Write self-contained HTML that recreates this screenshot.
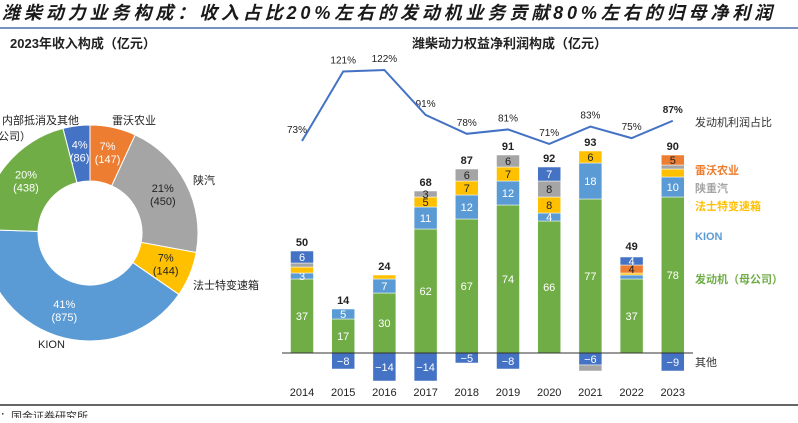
<!DOCTYPE html>
<html><head><meta charset="utf-8">
<style>
body{margin:0;background:#fff;width:798px;height:418px;overflow:hidden;font-family:"Liberation Sans","Noto Sans CJK SC",sans-serif;}
svg text{font-family:"Liberation Sans","Noto Sans CJK SC",sans-serif;}
</style></head><body>
<svg width="798" height="418" xmlns="http://www.w3.org/2000/svg">
<text x="2" y="19" font-size="18" font-weight="bold" font-style="italic" fill="#1a1a1a" textLength="770" lengthAdjust="spacing">潍柴动力业务构成：收入占比20%左右的发动机业务贡献80%左右的归母净利润</text>
<line x1="0" y1="28" x2="798" y2="28" stroke="#4a6fa5" stroke-width="1.5"/>
<text x="10" y="48" font-size="13" font-weight="bold" fill="#222">2023年收入构成（亿元）</text>
<text x="412" y="48" font-size="13" font-weight="bold" fill="#222">潍柴动力权益净利润构成（亿元）</text>
<g id="donut"></g>
<g id="bars"></g>
<line x1="0" y1="405" x2="798" y2="405" stroke="#333" stroke-width="1.5"/>
<text x="0" y="420" font-size="11" fill="#333">：国金证券研究所</text>
</svg>
<script>
const NS='http://www.w3.org/2000/svg';
function mk(p,t,a){const e=document.createElementNS(NS,t);for(const k in a)e.setAttribute(k,a[k]);p.appendChild(e);return e;}
// donut data
const pieNames=['雷沃农业','陕汽','法士特变速箱','KION','潍柴(母公司)','内部抵消及其他'];
const pieVals=[147,450,144,875,438,86];
const piePct=['7%','21%','7%','41%','20%','4%'];
const pieColors=['#ed7d31','#a5a5a5','#ffc000','#5b9bd5','#70ad47','#4472c4'];
// bar data
const years=['2014','2015','2016','2017','2018','2019','2020','2021','2022','2023'];
const engine=[37,17,30,62,67,74,66,77,37,78];
const kion=[3,5,7,11,12,12,4,18,2,10];
const fast=[3,0,2,5,7,7,8,6,1,4];
const shaanxi=[2,0,0,3,6,6,8,0,0,2];
const volvo=[0,0,0,0,0,0,0,0,4,5];
const otherPos=[6,0,0,0,0,0,7,0,4,0];
const otherNeg=[0,-8,-14,-14,-5,-8,0,-6,0,-9];
const shaanxiNeg=[0,0,0,0,0,0,0,-3,0,0];
const totals=[50,14,24,68,87,91,92,93,49,90];
const share=[73,121,122,91,78,81,71,83,75,87];

// donut
const dg=document.getElementById('donut');
const cx=90,cy=233,R=108,r=52;
const tot=pieVals.reduce((a,b)=>a+b,0);
let ang=0;
pieVals.forEach((v,i)=>{
 const a0=ang,a1=ang+v/tot*2*Math.PI;ang=a1;
 const p=(a,rr)=>[cx+rr*Math.sin(a),cy-rr*Math.cos(a)];
 const [x0,y0]=p(a0,R),[x1,y1]=p(a1,R),[x2,y2]=p(a1,r),[x3,y3]=p(a0,r);
 const lg=(a1-a0)>Math.PI?1:0;
 const s=mk(dg,'path',{d:`M${x0},${y0}A${R},${R} 0 ${lg} 1 ${x1},${y1}L${x2},${y2}A${r},${r} 0 ${lg} 0 ${x3},${y3}Z`,fill:pieColors[i],stroke:'#fff','stroke-width':1});
 
 
 const am=(a0+a1)/2,[lx,ly]=p(am,(R+r)/2+2);
 const t1=mk(dg,'text',{x:lx,y:ly-3,'font-size':11,fill:i==1||i==2?'#222':'#fff','text-anchor':'middle'});t1.textContent=piePct[i];
 
 
 const t2=mk(dg,'text',{x:lx,y:ly+10,'font-size':11,fill:i==1||i==2?'#222':'#fff','text-anchor':'middle'});t2.textContent='('+v+')';
 
 
});
[['内部抵消及其他',2,124],['公司）',-2,140],['雷沃农业',112,124],['陕汽',193,184],['法士特变速箱',193,289],['KION',38,348]].forEach((l,i)=>{
 const t=mk(dg,'text',{x:l[1],y:l[2],'font-size':11,fill:'#222'});t.textContent=l[0];
 
 
});

// bars
const bg=document.getElementById('bars');
const base=353,k=2.0,x0=302,step=41.2,bw=23;
const X=i=>x0+i*step;
const Y=v=>base-v*k;
const SY=v=>70+(122-v)*1.45;
function seg(i,from,val,color,name,lbl,lcol){
 if(!val)return;
 const y1=Y(from+val),y2=Y(from);
 const rc=mk(bg,'rect',{x:X(i)-bw/2,y:Math.min(y1,y2),width:bw,height:Math.abs(y2-y1),fill:color,stroke:'#fff','stroke-width':0.5});
 
 
 if(lbl){const t=mk(bg,'text',{x:X(i),y:(y1+y2)/2+4,'font-size':11,fill:lcol||'#fff','text-anchor':'middle'});t.textContent=String(val).replace('-','−');
 
 }
}
years.forEach((y,i)=>{
 let c=0;
 seg(i,c,engine[i],'#70ad47','bar-engine',true);c+=engine[i];
 seg(i,c,kion[i],'#5b9bd5','bar-kion',kion[i]>=3);c+=kion[i];
 seg(i,c,fast[i],'#ffc000','bar-fast',fast[i]>=5,'#222');c+=fast[i];
 seg(i,c,shaanxi[i],'#a5a5a5','bar-shaanxi',shaanxi[i]>=3,'#222');c+=shaanxi[i];
 seg(i,c,volvo[i],'#ed7d31','bar-volvo',volvo[i]>=4,'#222');c+=volvo[i];
 seg(i,c,otherPos[i],'#4472c4','bar-other-pos',true);
 seg(i,0,otherNeg[i],'#4472c4','bar-other-neg',true);
 seg(i,otherNeg[i],shaanxiNeg[i],'#a5a5a5','bar-shaanxi-neg',false);
 const tt=mk(bg,'text',{x:X(i),y:Y(Math.max(c+otherPos[i],totals[i]))-5,'font-size':11,'font-weight':'bold',fill:'#222','text-anchor':'middle'});tt.textContent=totals[i];
 
 
 const xl=mk(bg,'text',{x:X(i),y:396,'font-size':11,fill:'#222','text-anchor':'middle'});xl.textContent=y;
 
 
 const sl=mk(bg,'text',{x:X(i)+(i==0?-5:0),y:SY(share[i])-8,'font-size':10,fill:'#222','text-anchor':'middle','font-weight':i==9?'bold':'normal'});sl.textContent=share[i]+'%';
 
 
});
const axis=mk(bg,'line',{x1:282,y1:base,x2:693,y2:base,stroke:'#333','stroke-width':1});


const ln=mk(bg,'polyline',{points:share.map((v,i)=>X(i)+','+SY(v)).join(' '),fill:'none',stroke:'#4472c4','stroke-width':2});


[['发动机利润占比',695,126,'#333'],['雷沃农业',695,174,'#ed7d31'],['陕重汽',695,192,'#a5a5a5'],['法士特变速箱',695,210,'#ffc000'],['KION',695,240,'#5b9bd5'],['发动机（母公司）',695,283,'#70ad47'],['其他',695,366,'#333']].forEach((l,i)=>{
 const t=mk(bg,'text',{x:l[1],y:l[2],'font-size':11,fill:l[3],'font-weight':i>0&&i<6?'bold':'normal'});t.textContent=l[0];
 
 
});
</script>
</body></html>
